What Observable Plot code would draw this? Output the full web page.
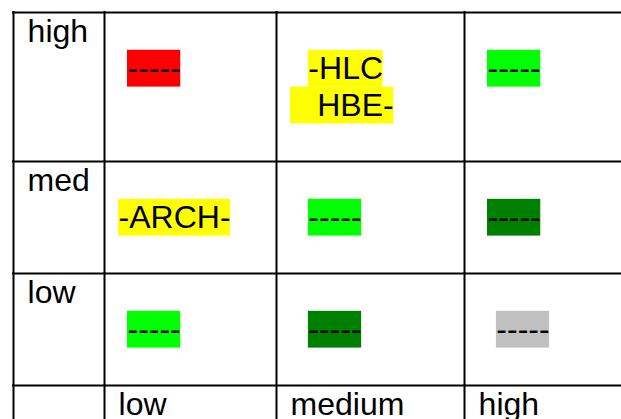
<!DOCTYPE html>
<html>
<head>
<meta charset="utf-8">
<script src="https://cdn.jsdelivr.net/npm/d3@7"></script>
<script src="https://cdn.jsdelivr.net/npm/@observablehq/plot@0.6"></script>
<style>
  html, body { margin: 0; padding: 0; background: #fff; }
</style>
</head>
<body>
<div id="chart"></div>
<script>
// ---- data ----
const rowLabels = ["high", "med", "low"];
const colLabels = ["low", "medium", "high"];
const cellRows  = ["high", "high", "high", "high", "med", "med", "med", "low", "low", "low"];
const cellCols  = ["low", "medium", "medium", "high", "low", "medium", "high", "low", "medium", "high"];
const cellLines = [0, 0, 1, 0, 0, 0, 0, 0, 0, 0];
const cellTexts = ["-----", "-HLC", "\u00A0\u00A0\u00A0HBE-", "-----", "-ARCH-", "-----", "-----", "-----", "-----", "-----"];
const cellFills = ["#FF0000", "#FFFF00", "#FFFF00", "#00FF00", "#FFFF00", "#00FF00", "#008000", "#00FF00", "#008000", "#C0C0C0"];

// ---- layout ----
const W = 621, H = 419;
const FONT = "Liberation Sans, Arial, sans-serif";
const FS = 32;
const lineH = FS * 1.15;
const ascent = 0.905 * FS;
const pad = 5.2;
const colLeft = {label: 13, low: 104, medium: 276, high: 464};
const colEdges = [13, 104, 276, 464];
const rowTop = {high: 12, med: 161, low: 273, axis: 385};
const rowEdges = [12, 161, 273, 385];
const indentSpaces = [2, 3, 1, 2, 1, 3, 2, 2, 3, 3];

const ctx = document.createElement("canvas").getContext("2d");
ctx.font = `${FS}px ${FONT}`;
const spaceW = ctx.measureText("\u00A0").width;
const measure = (s) => ctx.measureText(s).width;

const cells = cellTexts.map((t, i) => {
  const x = colLeft[cellCols[i]] + pad + indentSpaces[i] * spaceW;
  const top = rowTop[cellRows[i]] + 1 + (1 + cellLines[i]) * lineH;
  return {text: t, fill: cellFills[i], x1: x, x2: x + measure(t), y1: top, y2: top + lineH, base: top + ascent};
});

const rowLabelData = rowLabels.map((r) => ({text: r, x: colLeft.label + pad + spaceW, y: rowTop[r] + 1 + ascent}));
const colLabelData = colLabels.map((c) => ({text: c, x: colLeft[c] + pad + spaceW, y: rowTop.axis + 1 + ascent}));

const chart = Plot.plot({
  width: W,
  height: H,
  margin: 0,
  x: {type: "identity"},
  y: {type: "identity"},
  style: {fontFamily: FONT, background: "#fff"},
  marks: [
    Plot.rect(cells, {x1: "x1", x2: "x2", y1: "y1", y2: "y2", fill: "fill"}),
    Plot.text(cells, {x: "x1", y: "base", text: "text", textAnchor: "start", lineAnchor: "bottom", fontSize: FS, fill: "#000"}),
    Plot.text(rowLabelData, {x: "x", y: "y", text: "text", textAnchor: "start", lineAnchor: "bottom", fontSize: FS, fill: "#000"}),
    Plot.text(colLabelData, {x: "x", y: "y", text: "text", textAnchor: "start", lineAnchor: "bottom", fontSize: FS, fill: "#000"}),
    Plot.ruleX(colEdges, {x: (d) => d, y1: 11, y2: H, stroke: "#000", strokeWidth: 2}),
    Plot.ruleY(rowEdges, {y: (d) => d, x1: 12, x2: W, stroke: "#000", strokeWidth: 2})
  ]
});
document.getElementById("chart").appendChild(chart);
</script>
</body>
</html>
